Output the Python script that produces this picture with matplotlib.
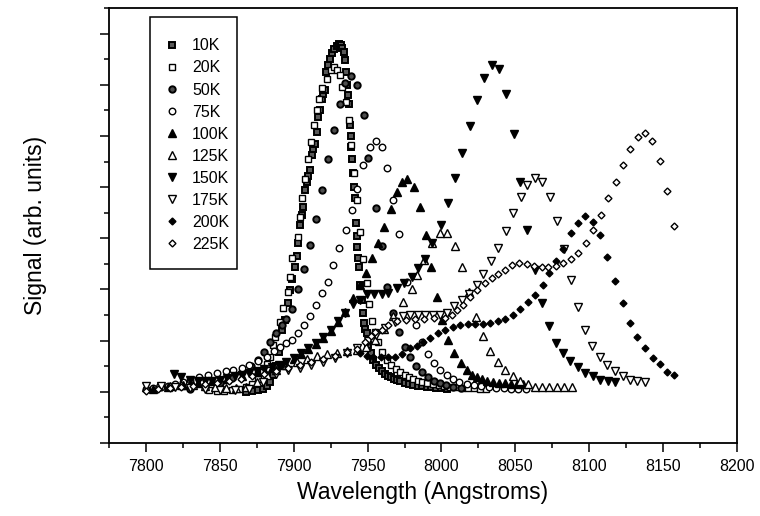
import matplotlib
matplotlib.use("Agg")
import matplotlib.pyplot as plt
from matplotlib.ticker import MultipleLocator, NullFormatter
from matplotlib.patches import Rectangle

plt.rcParams["font.family"] = ["Liberation Sans", "DejaVu Sans"]

# (wavelength in Angstrom, signal in arb. units)
t10 = [(7868, 1.00), (7872, 1.01), (7876, 1.03), (7879, 1.06), (7882, 1.12), (7884, 1.20),
       (7886, 1.32), (7888, 1.50), (7890, 1.78), (7891.8, 2.21), (7894.1, 2.40), (7896.3, 2.73),
       (7897.5, 2.99), (7899, 3.20), (7900.8, 3.44), (7902, 3.65), (7903.1, 3.90), (7904.2, 4.26),
       (7905.5, 4.45), (7906.5, 4.62), (7907.6, 4.94), (7908.8, 5.10), (7910, 5.22), (7911, 5.33),
       (7912.1, 5.63), (7913.3, 5.75), (7914.4, 5.85), (7915.5, 6.08), (7916.6, 6.37), (7917.8, 6.50),
       (7918.9, 6.73), (7920, 6.82), (7921.1, 6.89), (7921.8, 7.25), (7923, 7.38), (7924.5, 7.50),
       (7926, 7.62), (7927.5, 7.70), (7929, 7.76), (7930.5, 7.80), (7932, 7.78), (7933, 7.72),
       (7934, 7.64), (7934.7, 7.48), (7935.4, 7.25), (7935.8, 6.99), (7936.7, 6.80), (7937.6, 6.63),
       (7938, 6.21), (7938.6, 6.00), (7939.1, 5.79), (7939.7, 5.55), (7940.3, 5.27), (7941, 5.00),
       (7941.5, 4.78), (7942, 4.29), (7942.5, 4.05), (7943, 3.83), (7943.7, 3.62), (7944.4, 3.44),
       (7945, 3.09), (7946, 2.80), (7947, 2.55), (7947.7, 2.35), (7948.5, 2.22), (7949.4, 2.14),
       (7950.5, 1.92), (7952, 1.75), (7954, 1.62), (7956, 1.53), (7958, 1.46), (7960, 1.40),
       (7962, 1.35), (7964, 1.31), (7966, 1.28), (7968, 1.25), (7970, 1.23), (7972, 1.21),
       (7975, 1.18), (7978, 1.16), (7981, 1.14), (7984, 1.12), (7987, 1.11), (7990, 1.10),
       (7993, 1.09), (7996, 1.08), (8000, 1.07), (8004, 1.06)]

t20 = [(7843, 1.03), (7848, 1.02), (7853, 1.02), (7858, 1.03), (7863, 1.05), (7868, 1.09),
       (7872, 1.15), (7876, 1.25), (7879, 1.38), (7882, 1.55), (7883.9, 1.69), (7886.2, 1.91),
       (7887.3, 2.08), (7890.7, 2.37), (7892.9, 2.63), (7896.3, 2.96), (7897.5, 3.25), (7898.6, 3.61),
       (7903.1, 4.03), (7904.2, 4.42), (7905.4, 4.78), (7907.6, 5.15), (7909.8, 5.54), (7911.5, 5.88),
       (7913.9, 6.22), (7915.5, 6.50), (7917.3, 6.73), (7918.9, 6.93), (7922.3, 7.12), (7925, 7.28),
       (7927.5, 7.35), (7929.5, 7.29), (7931, 7.19), (7933, 6.95), (7935.4, 6.67), (7937.6, 6.32),
       (7939, 5.82), (7941, 5.28), (7942.6, 4.75), (7944.8, 4.13), (7947, 3.59), (7949.4, 3.12),
       (7951, 2.71), (7952.8, 2.38), (7955, 2.16), (7957.2, 1.98), (7960, 1.78), (7963, 1.62),
       (7966, 1.52), (7969, 1.44), (7972, 1.38), (7975, 1.33), (7978, 1.28), (7981, 1.25),
       (7984, 1.22), (7987, 1.19), (7990, 1.17), (7994, 1.15), (7998, 1.13), (8002, 1.11),
       (8006, 1.10), (8010, 1.09), (8014, 1.08), (8018, 1.07), (8022, 1.07), (8026, 1.06),
       (8030, 1.06)]

t50 = [(7830, 1.05), (7840, 1.10), (7850, 1.18), (7858, 1.27), (7865, 1.38), (7871, 1.50),
       (7876, 1.62), (7880, 1.78), (7884, 1.98), (7888, 2.15), (7892, 2.30), (7895, 2.42),
       (7899, 2.62), (7903, 3.00), (7907, 3.40), (7911, 3.87), (7915, 4.38), (7919, 4.94),
       (7923, 5.55), (7927, 6.11), (7931, 6.62), (7935, 7.03), (7939, 7.17), (7943, 6.99),
       (7947.5, 6.41), (7950.4, 5.56), (7955.7, 4.60), (7959.5, 3.85), (7963.3, 3.05), (7967, 2.55),
       (7971, 2.17), (7975, 1.88), (7979, 1.68), (7983, 1.50), (7987, 1.38), (7991, 1.29),
       (7995, 1.22), (7999, 1.17), (8003, 1.13), (8008, 1.10), (8013, 1.08)]

t75 = [(7800, 1.06), (7805, 1.08), (7810, 1.10), (7815, 1.12), (7820, 1.15), (7825, 1.19),
       (7830, 1.23), (7836, 1.29), (7842, 1.33), (7848, 1.36), (7854, 1.40), (7859, 1.43),
       (7865, 1.47), (7870, 1.52), (7876, 1.60), (7882, 1.69), (7887, 1.80), (7891, 1.88),
       (7895, 1.95), (7899, 2.02), (7903, 2.14), (7907, 2.30), (7911, 2.48), (7915, 2.70),
       (7919, 2.94), (7923.4, 3.15), (7926.8, 3.48), (7930.8, 3.81), (7935.4, 4.17), (7939.2, 4.56),
       (7942.6, 4.97), (7947, 5.43), (7951.6, 5.79), (7955.7, 5.90), (7959.5, 5.79), (7963.3, 5.38),
       (7967, 4.75), (7971.2, 4.08), (7977, 3.15), (7983, 2.30), (7987, 1.98), (7991, 1.73),
       (7995, 1.56), (7999, 1.43), (8003.5, 1.32), (8008, 1.25), (8012, 1.20), (8017, 1.16),
       (8022, 1.13), (8027, 1.11), (8032, 1.09), (8037, 1.08), (8042, 1.07), (8047, 1.06),
       (8052, 1.06), (8057, 1.05)]

t100 = [(7805, 1.05), (7815, 1.09), (7825, 1.13), (7835, 1.17), (7845, 1.21), (7855, 1.26),
        (7865, 1.31), (7875, 1.38), (7885, 1.46), (7893, 1.53), (7900, 1.64), (7905, 1.73),
        (7910, 1.83), (7915, 1.94), (7920, 2.06), (7925, 2.19), (7930, 2.37), (7935, 2.56),
        (7940.3, 2.83), (7944.8, 3.09), (7948.6, 3.33), (7952.7, 3.62), (7957.2, 3.90), (7961.1, 4.22),
        (7965.6, 4.58), (7969.6, 4.91), (7973, 5.10), (7977, 5.15), (7981.4, 5.01), (7985.4, 4.62),
        (7989.5, 4.06), (7992.9, 3.43), (7996.7, 2.86), (8000.5, 2.40), (8004.6, 2.01), (8008.5, 1.75),
        (8013, 1.56), (8017, 1.43), (8020.4, 1.33), (8024, 1.28), (8027.2, 1.26), (8031, 1.22),
        (8035, 1.20), (8039, 1.18), (8043, 1.17), (8047, 1.16), (8051, 1.16), (8055, 1.15)]

t125 = [(7800, 1.10), (7808, 1.11), (7816, 1.12), (7824, 1.14), (7832, 1.14), (7840, 1.12),
        (7847, 1.09), (7854, 1.08), (7861, 1.08), (7868, 1.10), (7875, 1.20), (7882, 1.33),
        (7888, 1.42), (7895, 1.52), (7902, 1.59), (7908.8, 1.65), (7915.5, 1.70), (7922.3, 1.74),
        (7929, 1.76), (7935.8, 1.79), (7942.6, 1.82), (7949, 1.88), (7955, 2.02), (7961, 2.22),
        (7967, 2.48), (7973.7, 2.76), (7979.8, 3.00), (7983.5, 3.28), (7988.2, 3.57), (7993.8, 3.90),
        (7999, 4.10), (8004, 4.10), (8009, 3.85), (8013.7, 3.43), (8018.5, 2.95), (8023.4, 2.47),
        (8028.3, 2.09), (8032.8, 1.80), (8038, 1.58), (8043.2, 1.43), (8048.2, 1.31), (8053.1, 1.21),
        (8058.3, 1.15), (8063.3, 1.10), (8068.2, 1.09), (8073, 1.09), (8078, 1.09), (8083, 1.09),
        (8088, 1.09)]

t150 = [(7819, 1.35), (7824, 1.28), (7830, 1.24), (7835, 1.22), (7840, 1.21), (7845, 1.22),
        (7850, 1.24), (7855, 1.27), (7860, 1.30), (7865, 1.33), (7870, 1.36), (7875, 1.40),
        (7880, 1.44), (7885, 1.48), (7890, 1.53), (7895, 1.58), (7900, 1.66), (7905, 1.75),
        (7910, 1.85), (7915, 1.96), (7920, 2.08), (7925, 2.20), (7930, 2.38), (7935, 2.55),
        (7940, 2.72), (7944.8, 2.79), (7949.4, 2.91), (7954.3, 2.92), (7959.5, 2.92), (7964, 2.94),
        (7969.7, 3.02), (7974.6, 3.12), (7979.8, 3.25), (7984.3, 3.41), (7988.8, 3.59), (7993.8, 3.90),
        (7999.4, 4.26), (8004.6, 4.68), (8008.9, 5.17), (8013.9, 5.66), (8019.1, 6.19), (8024, 6.70),
        (8028.8, 7.14), (8034, 7.38), (8038.9, 7.30), (8043.7, 6.81), (8048.9, 6.04), (8053.1, 5.10),
        (8058.1, 4.16), (8063.1, 3.38), (8068.2, 2.73), (8072.8, 2.29), (8077.3, 1.95), (8082.5, 1.75),
        (8087.2, 1.61), (8092.2, 1.49), (8097.1, 1.37), (8102.3, 1.30), (8107.3, 1.23), (8112.5, 1.21),
        (8117.4, 1.20)]

t175 = [(7800, 1.12), (7810, 1.12), (7820, 1.10), (7830, 1.08), (7840, 1.05), (7850, 1.03),
        (7860, 1.03), (7870, 1.06), (7879, 1.20), (7888, 1.35), (7896, 1.42), (7904, 1.46),
        (7912, 1.52), (7920, 1.58), (7928, 1.66), (7936, 1.75), (7943, 1.86), (7950, 2.00),
        (7956, 2.12), (7962, 2.25), (7968.5, 2.37), (7974, 2.48), (7979, 2.50), (7984, 2.50),
        (7989, 2.50), (7994, 2.50), (7999, 2.51), (8003.5, 2.55), (8008.7, 2.68), (8013.7, 2.79),
        (8018.8, 2.92), (8023.8, 3.09), (8028.3, 3.31), (8033.3, 3.56), (8038, 3.82), (8043.7, 4.15),
        (8048.6, 4.49), (8053.6, 4.81), (8058.1, 5.04), (8063.1, 5.18), (8068.2, 5.10), (8073.4, 4.81),
        (8078, 4.34), (8083, 3.80), (8087.6, 3.18), (8092.2, 2.66), (8097.1, 2.21), (8102, 1.89),
        (8107.3, 1.69), (8112.2, 1.52), (8117.4, 1.41), (8122.6, 1.30), (8127.6, 1.24), (8132.5, 1.21),
        (8137.7, 1.19)]

t200 = [(7945, 1.75), (7949.4, 1.70), (7954, 1.68), (7959, 1.68), (7963.5, 1.68), (7968.5, 1.69),
        (7973, 1.74), (7978.7, 1.85), (7983.2, 1.90), (7987.6, 1.98), (7992.2, 2.06), (7997.8, 2.15),
        (8002.4, 2.21), (8008, 2.27), (8012.5, 2.30), (8018.2, 2.33), (8022.7, 2.33), (8028.3, 2.33),
        (8033, 2.35), (8038.5, 2.38), (8043.2, 2.42), (8048.4, 2.50), (8053.1, 2.61), (8058.3, 2.75),
        (8063.3, 2.89), (8068.5, 3.09), (8072.8, 3.33), (8077.5, 3.56), (8082.5, 3.80), (8087.4, 4.10),
        (8092.6, 4.30), (8097.1, 4.43), (8102.3, 4.32), (8107.3, 4.06), (8112.2, 3.63), (8117.4, 3.17),
        (8122.6, 2.73), (8127.6, 2.35), (8132.5, 2.08), (8137.7, 1.85), (8142.9, 1.67), (8147.9, 1.54),
        (8152.4, 1.39), (8157.4, 1.33)]

t225 = [(7800, 1.02), (7808, 1.05), (7816, 1.08), (7824, 1.10), (7832, 1.12), (7840, 1.15),
        (7848, 1.18), (7856, 1.22), (7864, 1.26), (7872, 1.30), (7880, 1.35), (7888, 1.40),
        (7896, 1.46), (7904, 1.52), (7912, 1.58), (7920, 1.64), (7928, 1.70), (7936, 1.77),
        (7943, 1.83), (7948, 1.98), (7952, 2.10), (7955, 2.17), (7959.5, 2.21), (7964, 2.30),
        (7969.7, 2.38), (7976, 2.41), (7982, 2.42), (7988, 2.43), (7995, 2.44), (8002.4, 2.44),
        (8006.8, 2.50), (8010.2, 2.60), (8014.7, 2.70), (8019.3, 2.86), (8024, 2.98), (8029.4, 3.13),
        (8034, 3.22), (8038.5, 3.30), (8043, 3.39), (8047.7, 3.48), (8052.5, 3.52), (8057.7, 3.50),
        (8062.8, 3.46), (8067.8, 3.44), (8072.3, 3.44), (8077.5, 3.46), (8082.5, 3.51), (8087.4, 3.59),
        (8092.6, 3.71), (8097.5, 3.91), (8102.7, 4.16), (8107.7, 4.45), (8112.9, 4.78), (8117.9, 5.10),
        (8122.6, 5.44), (8127.6, 5.74), (8132.7, 5.97), (8137.7, 6.06), (8142.7, 5.90), (8147.9, 5.51),
        (8152.8, 4.92), (8157.6, 4.24)]

labels = ["10K", "20K", "50K", "75K", "100K", "125K", "150K", "175K", "200K", "225K"]
series = [t10, t20, t50, t75, t100, t125, t150, t175, t200, t225]

# marker, size, face colour
styles = [
    ("s", 4.6, "0.35"),
    ("s", 4.6, "white"),
    ("o", 4.6, "0.3"),
    ("o", 4.7, "white"),
    ("^", 5.3, "black"),
    ("^", 5.3, "white"),
    ("v", 5.3, "black"),
    ("v", 5.3, "white"),
    ("D", 3.5, "black"),
    ("D", 3.5, "white"),
]

fig = plt.figure(figsize=(7.6, 5.16), dpi=100)
ax = fig.add_axes([109/760, 73/516, 628/760, 435/516])

for data, lab, (m, ms, fc) in zip(series, labels, styles):
    x, y = zip(*data)
    mew = 1.4 if fc in ("0.35", "0.3") else 1.0
    ax.plot(x, y, ls="none", marker=m, ms=ms, mfc=fc, mec="black", mew=mew, label=lab)

ax.set_xlim(7775, 8200)
ax.set_ylim(0, 8.5)
ax.xaxis.set_major_locator(MultipleLocator(50))
ax.xaxis.set_minor_locator(MultipleLocator(25))
ax.yaxis.set_major_locator(MultipleLocator(1))
ax.yaxis.set_minor_locator(MultipleLocator(0.5))
ax.yaxis.set_major_formatter(NullFormatter())
ax.tick_params(which="both", direction="out", top=False, right=False, width=1.1)
ax.tick_params(which="major", length=6.5)
ax.tick_params(which="minor", length=3.5)
ax.tick_params(axis="x", labelsize=11.5, pad=5)
for s in ax.spines.values():
    s.set_linewidth(1.3)

ax.set_xlabel("Wavelength (Angstroms)", fontsize=16.5, labelpad=5)
ax.set_ylabel("Signal (arb. units)", fontsize=16.5)
ax.yaxis.set_label_coords(-0.098, 0.5)

leg = ax.legend(loc="upper left", bbox_to_anchor=(0.093, 0.93), frameon=False,
                fontsize=11.5, handlelength=0.6, handletextpad=0.95,
                labelspacing=0.44, borderpad=0, borderaxespad=0, numpoints=1)
ax.add_patch(Rectangle((41/628, 0.40), 87/628, 0.579, transform=ax.transAxes,
                       fill=False, ec="black", lw=1.1, zorder=5))

fig.savefig("out.png", dpi=100)
